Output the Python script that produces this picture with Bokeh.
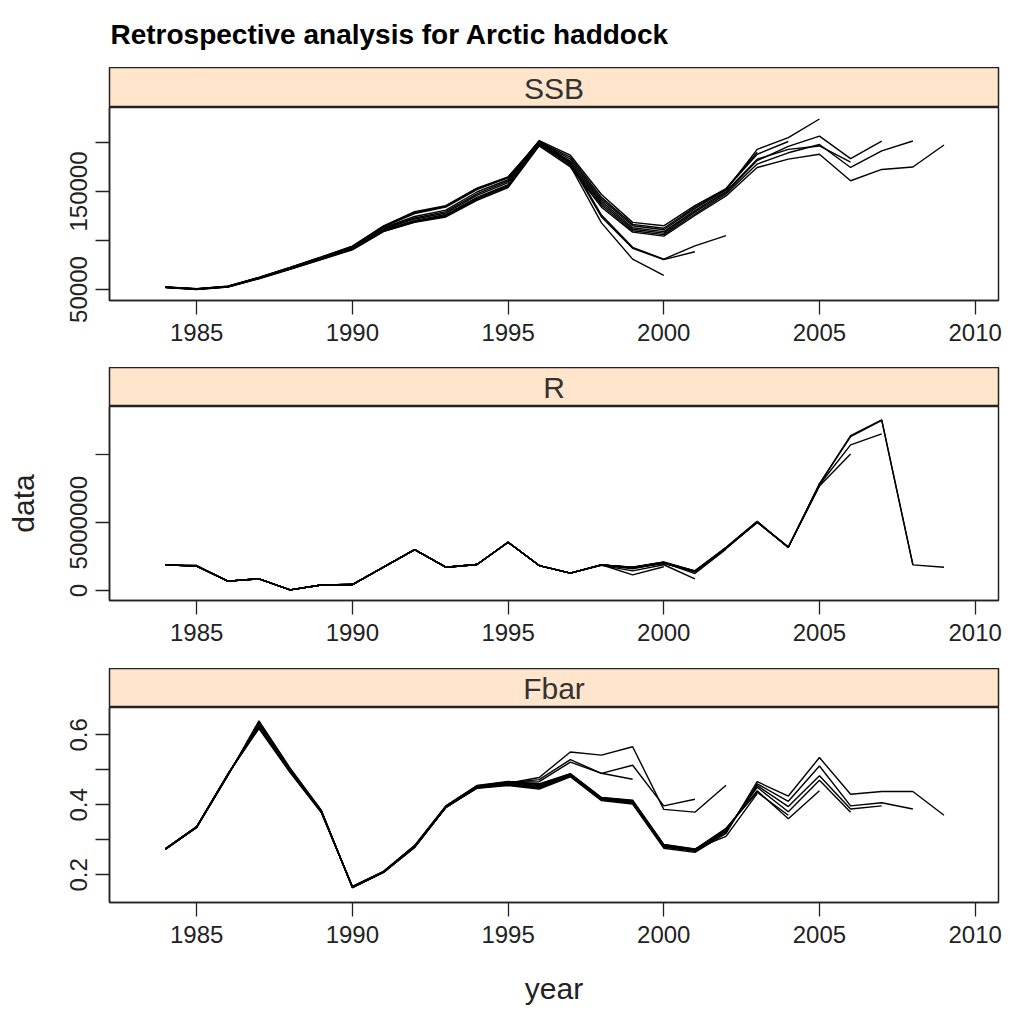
from bokeh.plotting import figure
from bokeh.layouts import column
from bokeh.models import Range1d, FixedTicker, NumeralTickFormatter
from bokeh.embed import file_html
from bokeh.resources import INLINE
from bokeh.core.properties import value

TITLE = "Retrospective analysis for Arctic haddock"
PANELS = ["SSB", "R", "Fbar"]
FIRST_YEAR = 1984
TERMINAL_YEARS = [2009, 2008, 2007, 2006, 2005, 2004, 2003, 2002, 2001, 2000]
X_TICKS = [1985, 1990, 1995, 2000, 2005, 2010]

# ---- SSB (tonnes) by retrospective run, from 1984 to the run's last year ----
SSB_2009 = [52000, 50000, 52500, 61000, 70500, 80500, 90500, 109000, 118500, 124000, 141000, 154000, 196500, 175000, 134000, 108500, 104500, 125500, 145500, 174500, 183000, 188000, 161000, 172500, 175000, 197500]
SSB_2008 = [52000, 50200, 52500, 61200, 70800, 80800, 91000, 109500, 119000, 125000, 142000, 155000, 197500, 177000, 136000, 110000, 106000, 127000, 147500, 178000, 189500, 198000, 174500, 191500, 201500]
SSB_2007 = [52200, 50300, 52700, 61400, 71000, 81000, 91300, 110000, 119500, 125500, 143000, 156000, 198500, 179000, 138000, 111500, 107500, 129000, 149000, 181500, 196000, 206500, 183500, 201500]
SSB_2006 = [52200, 50400, 52800, 61500, 71200, 81200, 91500, 110500, 120500, 126500, 144000, 157000, 199500, 181000, 140000, 113000, 109000, 130500, 150000, 183000, 193000, 196500, 180000]
SSB_2005 = [52300, 50500, 52900, 61700, 71400, 81500, 92000, 111500, 122000, 128000, 146000, 159000, 200500, 183000, 142000, 115000, 111000, 132500, 151500, 193000, 205000, 224000]
SSB_2004 = [52300, 50500, 53000, 61800, 71600, 81800, 92500, 112500, 123000, 129500, 147500, 160500, 201000, 185000, 144000, 116500, 112500, 134000, 152500, 188000, 201000]
SSB_2003 = [52400, 50600, 53100, 62000, 72000, 82300, 93000, 113000, 124500, 131000, 149500, 162000, 202000, 187000, 147000, 118500, 115000, 135500, 153000, 190000]
SSB_2002 = [52400, 50600, 53200, 62200, 72300, 82800, 93500, 114000, 127500, 134000, 152000, 164000, 201500, 180000, 126000, 93000, 81000, 94500, 105000]
SSB_2001 = [52500, 50700, 53300, 62300, 72500, 83000, 94000, 114500, 128500, 135000, 153000, 164500, 201000, 178500, 124000, 92000, 80500, 88500]
SSB_2000 = [52500, 50700, 53300, 62400, 72600, 83200, 94200, 115000, 129500, 135500, 153500, 165000, 200000, 176000, 118000, 81000, 64500]

# ---- Recruitment by run ----
R_2009 = [1890000, 1840000, 690000, 860000, 50000, 410000, 440000, 1720000, 3020000, 1720000, 1920000, 3560000, 1840000, 1280000, 1890000, 1650000, 2000000, 1380000, 3100000, 5040000, 3190000, 7860000, 11430000, 12580000, 1890000, 1720000]
R_2008 = [1890000, 1840000, 690000, 860000, 50000, 410000, 440000, 1720000, 3020000, 1720000, 1920000, 3560000, 1840000, 1280000, 1890000, 1650000, 2000000, 1380000, 3100000, 5040000, 3190000, 7860000, 11350000, 12550000, 1900000]
R_2007 = [1890000, 1800000, 690000, 860000, 50000, 410000, 440000, 1720000, 3020000, 1720000, 1920000, 3560000, 1840000, 1280000, 1890000, 1680000, 2020000, 1400000, 3120000, 5040000, 3190000, 7800000, 10740000, 11550000]
R_2006 = [1890000, 1800000, 690000, 860000, 50000, 410000, 440000, 1720000, 3020000, 1720000, 1920000, 3560000, 1840000, 1280000, 1890000, 1700000, 2050000, 1420000, 3150000, 5060000, 3200000, 7700000, 10070000]
R_2005 = [1890000, 1800000, 690000, 860000, 50000, 410000, 440000, 1720000, 3020000, 1720000, 1920000, 3560000, 1840000, 1280000, 1890000, 1720000, 2080000, 1450000, 3150000, 5080000, 3200000, 7750000]
R_2004 = [1890000, 1800000, 690000, 860000, 50000, 410000, 440000, 1720000, 3020000, 1720000, 1920000, 3560000, 1840000, 1280000, 1890000, 1720000, 2100000, 1450000, 3180000, 5100000, 3150000]
R_2003 = [1890000, 1800000, 690000, 860000, 50000, 410000, 440000, 1720000, 3020000, 1720000, 1920000, 3560000, 1840000, 1280000, 1890000, 1700000, 2080000, 1400000, 3150000, 5000000]
R_2002 = [1890000, 1800000, 690000, 860000, 50000, 410000, 440000, 1720000, 3020000, 1720000, 1920000, 3560000, 1840000, 1280000, 1870000, 1600000, 2050000, 1250000, 3050000]
R_2001 = [1890000, 1800000, 690000, 860000, 50000, 410000, 440000, 1720000, 3020000, 1720000, 1920000, 3560000, 1840000, 1280000, 1850000, 1450000, 1900000, 860000]
R_2000 = [1890000, 1800000, 690000, 860000, 50000, 410000, 440000, 1720000, 3020000, 1720000, 1920000, 3560000, 1840000, 1280000, 1900000, 1150000, 1750000]

# ---- Fbar by run ----
F_2009 = [0.273, 0.335, 0.483, 0.640, 0.505, 0.385, 0.163, 0.207, 0.279, 0.393, 0.447, 0.455, 0.445, 0.480, 0.412, 0.402, 0.276, 0.264, 0.318, 0.466, 0.425, 0.535, 0.430, 0.438, 0.438, 0.370]
F_2008 = [0.273, 0.336, 0.484, 0.636, 0.503, 0.384, 0.164, 0.207, 0.278, 0.392, 0.448, 0.457, 0.448, 0.482, 0.414, 0.404, 0.279, 0.267, 0.322, 0.460, 0.410, 0.511, 0.397, 0.406, 0.388]
F_2007 = [0.274, 0.336, 0.485, 0.632, 0.500, 0.382, 0.165, 0.208, 0.280, 0.393, 0.450, 0.459, 0.450, 0.484, 0.416, 0.406, 0.281, 0.269, 0.325, 0.455, 0.395, 0.483, 0.388, 0.397]
F_2006 = [0.274, 0.337, 0.486, 0.628, 0.498, 0.381, 0.165, 0.208, 0.281, 0.394, 0.451, 0.461, 0.452, 0.486, 0.418, 0.408, 0.283, 0.271, 0.328, 0.450, 0.380, 0.470, 0.379]
F_2005 = [0.275, 0.337, 0.487, 0.624, 0.496, 0.380, 0.166, 0.209, 0.282, 0.395, 0.453, 0.463, 0.455, 0.487, 0.419, 0.410, 0.285, 0.272, 0.330, 0.440, 0.360, 0.440]
F_2004 = [0.275, 0.338, 0.487, 0.620, 0.494, 0.379, 0.166, 0.209, 0.283, 0.396, 0.454, 0.465, 0.458, 0.488, 0.420, 0.412, 0.286, 0.273, 0.333, 0.436, 0.370]
F_2003 = [0.275, 0.338, 0.488, 0.618, 0.492, 0.378, 0.167, 0.210, 0.284, 0.397, 0.455, 0.467, 0.460, 0.489, 0.421, 0.413, 0.287, 0.274, 0.310, 0.432]
F_2002 = [0.273, 0.336, 0.486, 0.630, 0.500, 0.383, 0.164, 0.207, 0.279, 0.392, 0.450, 0.462, 0.478, 0.551, 0.542, 0.566, 0.387, 0.379, 0.456]
F_2001 = [0.273, 0.336, 0.486, 0.628, 0.499, 0.382, 0.165, 0.208, 0.280, 0.393, 0.451, 0.463, 0.472, 0.529, 0.490, 0.513, 0.397, 0.416]
F_2000 = [0.274, 0.337, 0.487, 0.626, 0.498, 0.381, 0.165, 0.208, 0.281, 0.394, 0.452, 0.464, 0.466, 0.522, 0.490, 0.473]

SSB_RUNS = [SSB_2009, SSB_2008, SSB_2007, SSB_2006, SSB_2005, SSB_2004, SSB_2003, SSB_2002, SSB_2001, SSB_2000]
R_RUNS = [R_2009, R_2008, R_2007, R_2006, R_2005, R_2004, R_2003, R_2002, R_2001, R_2000]
F_RUNS = [F_2009, F_2008, F_2007, F_2006, F_2005, F_2004, F_2003, F_2002, F_2001, F_2000]

SSB_TICKS = [50000, 150000]
SSB_MINOR = [100000, 200000]
R_TICKS = [0, 5000000]
R_MINOR = [10000000]
F_TICKS = [0.2, 0.4, 0.6]
F_MINOR = [0.3, 0.5]

FONT = "Liberation Sans"
W_TOTAL = 1004
LEFT = 109
FRAME_W = 889
RIGHT = W_TOTAL - LEFT - FRAME_W
X_RANGE = (1982.20, 2010.75)


def title_fig():
    t = figure(frame_width=FRAME_W, frame_height=67, min_border_left=LEFT,
               min_border_right=RIGHT, min_border_top=0, min_border_bottom=0,
               x_axis_location=None, y_axis_location=None,
               x_range=Range1d(0, FRAME_W), y_range=Range1d(0, 67),
               output_backend="svg", toolbar_location=None)
    t.grid.visible = False
    t.outline_line_color = None
    t.text(x=[1], y=[33], text=[TITLE], text_align="left",
           text_baseline="middle", text_font=value(FONT), text_font_style="bold",
           text_font_size="28px", text_color="black")
    return t


def strip_fig(label, h):
    s = figure(frame_width=FRAME_W, frame_height=h, min_border_left=LEFT,
               min_border_right=RIGHT, min_border_top=0, min_border_bottom=0,
               x_axis_location=None, y_axis_location=None,
               x_range=Range1d(0, 1), y_range=Range1d(0, 1),
               output_backend="svg", toolbar_location=None)
    s.grid.visible = False
    s.background_fill_color = "#FFE5CC"
    s.outline_line_color = "#222222"
    s.outline_line_width = 1.5
    s.text(x=[0.5], y=[0.48], text=[label], text_align="center", text_baseline="middle",
           text_font=value(FONT), text_font_size="30px", text_color="#333333")
    return s


def panel_fig(runs, yr, ticks, minor, fmt, frame_h, bottom, xlabel=None, ylabel=None):
    p = figure(frame_width=FRAME_W, frame_height=frame_h, min_border_left=LEFT,
               min_border_right=RIGHT, min_border_top=0, min_border_bottom=bottom,
               x_range=Range1d(*X_RANGE), y_range=Range1d(*yr),
               output_backend="svg", toolbar_location=None)
    p.grid.visible = False
    p.outline_line_color = "#222222"
    p.outline_line_width = 1.5
    for vals in runs:
        yrs = list(range(FIRST_YEAR, FIRST_YEAR + len(vals)))
        p.line(yrs, vals, line_color="black", line_width=1.4)
    for ax in (p.xaxis[0], p.yaxis[0]):
        ax.major_tick_in = 0
        ax.major_tick_out = 14
        ax.minor_tick_in = 0
        ax.minor_tick_out = 14
        ax.major_tick_line_color = "#222222"
        ax.minor_tick_line_color = "#222222"
        ax.major_tick_line_width = 1.3
        ax.minor_tick_line_width = 1.3
        ax.axis_line_color = "#222222"
        ax.axis_line_width = 1.5
        ax.major_label_text_font = FONT
        ax.major_label_text_font_size = "24px"
        ax.major_label_text_color = "#222222"
        ax.axis_label_text_font = FONT
        ax.axis_label_text_font_size = "30px"
        ax.axis_label_text_font_style = "normal"
        ax.axis_label_text_color = "#222222"
    p.xaxis[0].ticker = FixedTicker(ticks=X_TICKS, minor_ticks=[])
    p.xaxis[0].major_label_standoff = 9
    p.yaxis[0].ticker = FixedTicker(ticks=ticks, minor_ticks=minor)
    p.yaxis[0].formatter = NumeralTickFormatter(format=fmt)
    p.yaxis[0].major_label_orientation = "vertical"
    p.yaxis[0].major_label_standoff = 8
    if xlabel:
        p.xaxis[0].axis_label = xlabel
        p.xaxis[0].axis_label_standoff = 26
    if ylabel:
        p.yaxis[0].axis_label = ylabel
        p.yaxis[0].axis_label_standoff = 28
    return p


top = title_fig()
s1 = strip_fig(PANELS[0], 40)
p1 = panel_fig(SSB_RUNS, (38776, 235714), SSB_TICKS, SSB_MINOR, "0", 193, 67)
s2 = strip_fig(PANELS[1], 39)
p2 = panel_fig(R_RUNS, (-737000, 13570000), R_TICKS, R_MINOR, "0", 194, 68, ylabel="data")
s3 = strip_fig(PANELS[2], 39)
p3 = panel_fig(F_RUNS, (0.1209, 0.678), F_TICKS, F_MINOR, "0.0", 195, 110, xlabel="year")

layout = column(top, s1, p1, s2, p2, s3, p3, spacing=0)
open("out.html", "w").write(file_html(layout, INLINE, title="Retrospective analysis"))
